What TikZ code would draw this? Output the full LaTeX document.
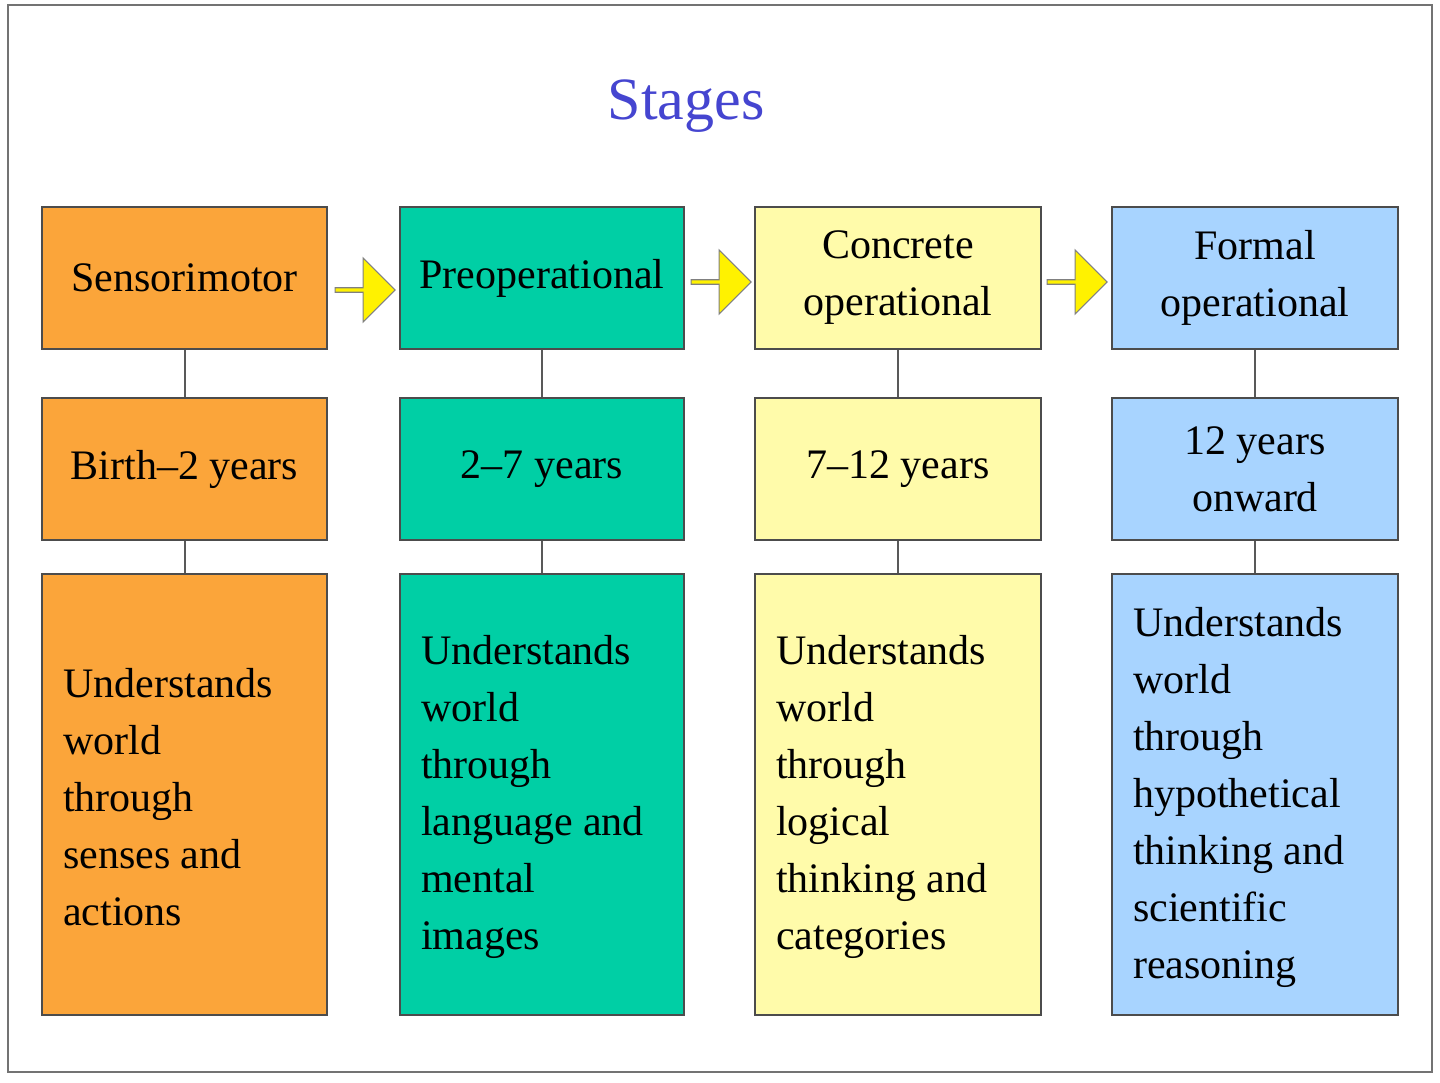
\documentclass[tikz,border=0pt]{standalone}
\usepackage{fontspec}
\setmainfont{Liberation Serif}
\usetikzlibrary{shapes.arrows}
\definecolor{cor}{HTML}{FBA53A}
\definecolor{cte}{HTML}{00CFA5}
\definecolor{cye}{HTML}{FFFBAA}
\definecolor{cbl}{HTML}{A8D4FF}
\definecolor{ttl}{HTML}{4545D0}
\begin{document}
\begin{tikzpicture}[x=0.5pt,y=-0.5pt,
  box/.style={draw=black!70,line width=0.9pt,inner sep=0pt,font=\fontsize{21}{28.5}\selectfont,align=center},
  bigbox/.style={box,align=left},
  link/.style={draw=black!65,line width=1pt},
  yarrow/.style={single arrow,draw=black!50,fill=yellow,minimum height=30pt,minimum width=32pt,single arrow head extend=4pt,inner sep=0pt,line width=0.6pt}]
\useasboundingbox (0,0) rectangle (1440,1082);
\draw[black!55,line width=1pt] (8,5) rectangle (1432,1072);
\node[text=ttl,font=\fontsize{30}{36}\selectfont] (title) at (686,106) {Stages};
% columns: x centers and widths
\foreach \n/\xa/\xb/\c/\t/\a/\d in {
 1/42/327/cor/Sensorimotor/Birth--2 years/{Understands\\world\\through\\senses and\\actions},
 2/400/684/cte/Preoperational/2--7 years/{Understands\\world\\through\\language and\\mental\\images},
 3/755/1041/cye/{Concrete\\operational}/7--12 years/{Understands\\world\\through\\logical\\thinking and\\categories},
 4/1112/1398/cbl/{Formal\\operational}/{12 years\\onward}/{Understands\\world\\through\\hypothetical\\thinking and\\scientific\\reasoning}}{
  \node[box,fill=\c,minimum width={(\xb-\xa)*0.5pt},minimum height=71pt] (s\n) at ({(\xa+\xb)/2},278) {\t};
  \node[box,fill=\c,minimum width={(\xb-\xa)*0.5pt},minimum height=71pt] (a\n) at ({(\xa+\xb)/2},469) {\a};
  \node[box,fill=\c,minimum width={(\xb-\xa)*0.5pt},minimum height=220.5pt] (d\n) at ({(\xa+\xb)/2},794.5) {};
  \node[align=left,font=\fontsize{21}{28.5}\selectfont,anchor=west] (dt\n) at ({\xa+14},797) {\d};
  \draw[link] (s\n.south) -- (a\n.north);
  \draw[link] (a\n.south) -- (d\n.north);
}
\node[yarrow] (ar1) at (364,290) {};
\node[yarrow] (ar2) at (720,282) {};
\node[yarrow] (ar3) at (1076,282) {};
\end{tikzpicture}
\end{document}
